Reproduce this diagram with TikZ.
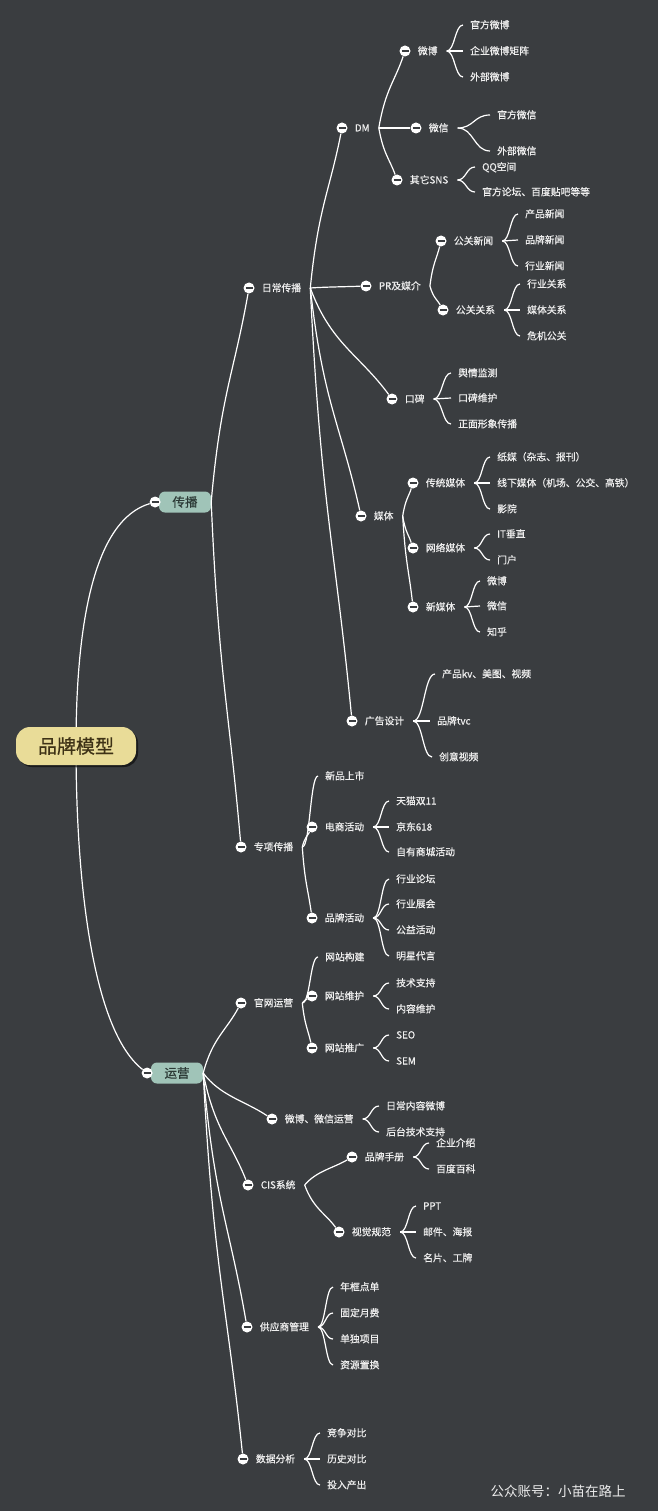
\documentclass[tikz,border=0pt]{standalone}
\usepackage{fontspec}
\setmainfont{Noto Sans CJK SC}[FakeBold=0.7]
\newfontfamily\markfont{Noto Sans CJK SC}
\usetikzlibrary{calc,positioning,shadows}

\definecolor{bgc}{RGB}{58,61,64}
\definecolor{inkc}{RGB}{238,238,238}
\definecolor{rootc}{RGB}{233,220,152}
\definecolor{rootink}{RGB}{62,50,22}
\definecolor{mainc}{RGB}{160,196,184}
\definecolor{mainink}{RGB}{44,58,54}

\tikzset{
  knob/.style={circle,fill=white,minimum size=11pt,inner sep=0pt,
    path picture={\draw[bgc,line width=1.7pt] ([xshift=2pt]path picture bounding box.west) -- ([xshift=-2pt]path picture bounding box.east);}},
  lbl/.style={text=inkc,inner sep=0pt,text height=8.2pt,text depth=1.2pt,anchor=west},
  leaf/.style={lbl,inner xsep=7pt},
  link/.style={draw=white,line width=1.2pt},
  twig/.style={to path={.. controls ($(\tikztostart)!0.5!(\tikztostart |- \tikztotarget)!0.25!(\tikztotarget |- {$(\tikztostart)!0.5!(\tikztotarget)$})$) and ($(\tikztotarget)!0.4!(\tikztostart)$) .. (\tikztotarget)}},
  brace/.style={to path={.. controls ($(\tikztostart)!0.5!(\tikztostart -| \tikztotarget)$) and ($(\tikztotarget)!0.5!(\tikztotarget -| \tikztostart)$) .. (\tikztotarget)}},
  mainbox/.style={rounded corners=6pt,fill=mainc,text=mainink,minimum width=52pt,minimum height=21pt,inner sep=0pt,font=\fontsize{12.5}{14}\selectfont},
  rootbox/.style={rounded corners=14pt,fill=rootc,text=rootink,minimum width=120pt,minimum height=38pt,font=\fontsize{19}{22}\selectfont,
    drop shadow={shadow xshift=2pt,shadow yshift=-2pt,opacity=0.55,fill=black}},
}

\begin{document}
\begin{tikzpicture}[x=1pt,y=-1pt,font=\fontsize{9.8}{11}\selectfont]
\useasboundingbox (0,0) rectangle (658,1511);
\fill[bgc] (0,0) rectangle (658,1511);

% main branches
\node[mainbox] (cb-t) at (185,502) {传播};
\node[knob,left=-2pt of cb-t] (cb) {};
\coordinate (cb-j) at (cb-t.east);
\node[mainbox] (yy-t) at (177,1073) {运营};
\node[knob,left=-2pt of yy-t] (yy) {};
\coordinate (yy-j) at (yy-t.east);

% topics with a knob
\foreach \n/\x/\y/\t in {rc/249/288/日常传播, zx/241/847/专项传播, gw/241/1003/官网运营, wx/272/1119/微博、微信运营,
  cis/248/1185/CIS系统, gys/247/1327/供应商管理, sj/243/1459/数据分析,
  dm/342/128/DM, pr/366/286/PR及媒介, kb/392/399/口碑, mt/361/516/媒体, gg/352/721/广告设计,
  ds/312/827/电商活动, pp/312/918/品牌活动, wh/312/996/网站维护, tg/312/1048/网站推广,
  sc/352/1157/品牌手册, gf/339/1232/视觉规范,
  wb/405/51/微博, wc/416/128/微信, sns/397/180/其它SNS, xw/441/241/公关新闻, gx/443/310/公关关系,
  ct/413/483/传统媒体, wl/413/548/网络媒体, xm/413/607/新媒体} {
  \node[knob] (\n) at (\x,\y) {};
  \node[lbl,right=7pt of \n] (\n-t) {\t};
  \coordinate (\n-j) at ([xshift=9pt]\n-t.east);
}

% knob to knob
\foreach \a/\b in {cb/rc, cb/zx, yy/gw, yy/wx, yy/cis, yy/gys, yy/sj,
  rc/dm, rc/pr, rc/kb, rc/mt, rc/gg, zx/ds, zx/pp, gw/wh, gw/tg, cis/sc, cis/gf,
  dm/wb, dm/wc, dm/sns, pr/xw, pr/gx, mt/ct, mt/wl, mt/xm}
  \draw[link] (\a-j) to[twig] (\b);

% leaves
\foreach \p/\x/\y/\t in {wb/470/25/官方微博, wb/470/51/企业微博矩阵, wb/470/77/外部微博,
  wc/497/115/官方微信, wc/497/151/外部微信,
  sns/482/167/QQ空间, sns/482/192/官方论坛、百度贴吧等等,
  xw/525/214/产品新闻, xw/525/240/品牌新闻, xw/525/266/行业新闻,
  gx/527/284/行业关系, gx/527/310/媒体关系, gx/527/336/危机公关,
  kb/458/373/舆情监测, kb/458/398/口碑维护, kb/458/424/正面形象传播,
  ct/497/457/纸媒（杂志、报刊）, ct/497/483/线下媒体（机场、公交、高铁）, ct/497/509/影院,
  wl/497/534/IT垂直, wl/497/560/门户,
  xm/487/581/微博, xm/487/606/微信, xm/487/632/知乎,
  gg/442/674/产品kv、美图、视频, gg/437/721/品牌tvc, gg/439/757/创意视频,
  zx/325/776/新品上市,
  ds/396/801/天猫双11, ds/396/827/京东618, ds/396/852/自有商城活动,
  pp/396/879/行业论坛, pp/396/904/行业展会, pp/396/930/公益活动, pp/396/956/明星代言,
  gw/325/957/网站构建,
  wh/396/983/技术支持, wh/396/1009/内容维护,
  tg/396/1035/SEO, tg/396/1061/SEM,
  wx/386/1106/日常内容微博, wx/386/1132/后台技术支持,
  sc/436/1143/企业介绍, sc/436/1169/百度百科,
  gf/423/1206/PPT, gf/423/1232/邮件、海报, gf/423/1258/名片、工牌,
  gys/340/1287/年框点单, gys/340/1313/固定月费, gys/340/1339/单独项目, gys/340/1365/资源置换,
  sj/327/1433/竞争对比, sj/327/1459/历史对比, sj/327/1485/投入产出} {
  \node[leaf] (\p-\y) at ({\x-7},\y) {\t};
  \draw[link] (\p-j) to[brace] (\p-\y.west);
}

% root
\coordinate (hub) at (76,746);
\draw[link] (hub) .. controls (76,620) and (95,520) .. (cb);
\draw[link] (hub) .. controls (76,880) and (92,1030) .. (yy);
\node[rootbox] (root) at (hub) {品牌模型};

\node[text=gray!15!white,font=\markfont\fontsize{13.5}{15}\selectfont] (mark) at (558,1491) {公众账号：小苗在路上};
\end{tikzpicture}
\end{document}
